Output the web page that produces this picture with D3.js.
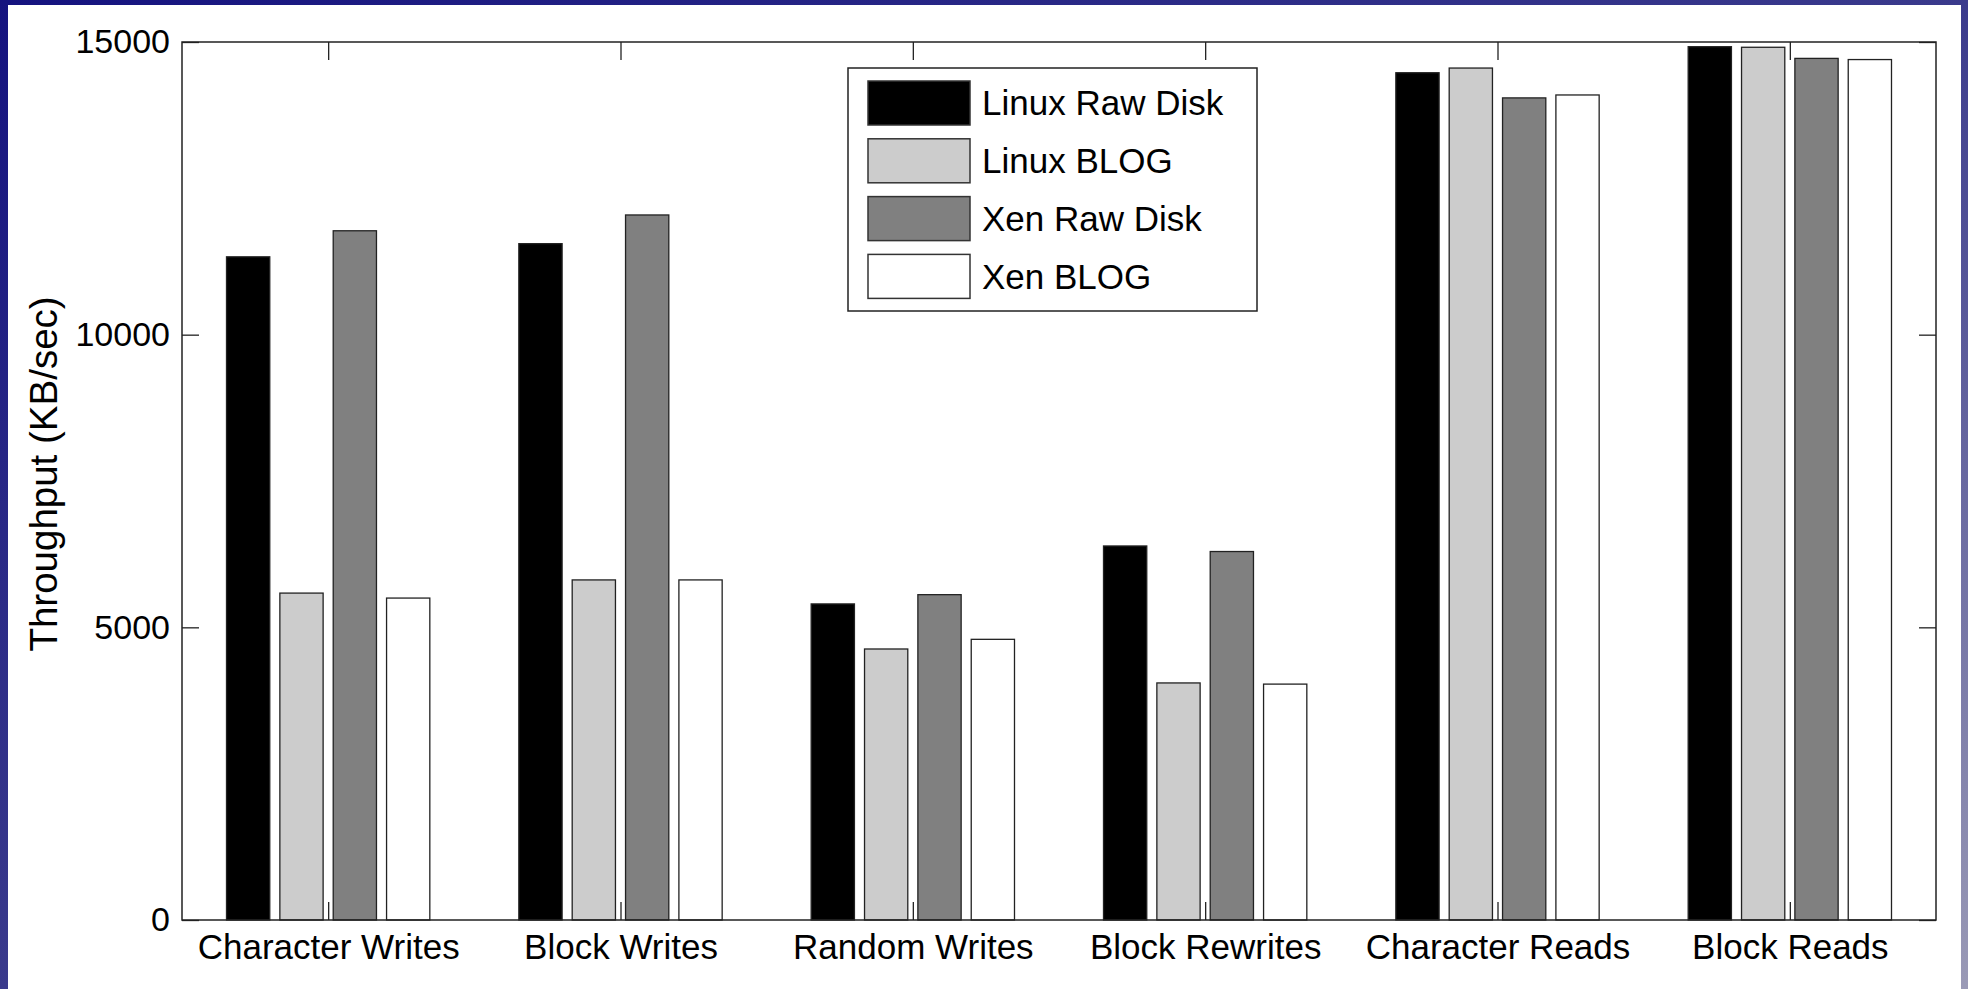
<!DOCTYPE html>
<html>
<head>
<meta charset="utf-8">
<title>Throughput</title>
<script src="https://cdn.jsdelivr.net/npm/d3@7"></script>
<style>
  html, body { margin: 0; padding: 0; overflow: hidden; }
  text { font-family: "Liberation Sans", Arial, Helvetica, sans-serif; fill: #000; }
</style>
</head>
<body>
<div id="chart"></div>
<script>
// data
var categories = ["Character Writes", "Block Writes", "Random Writes", "Block Rewrites", "Character Reads", "Block Reads"];
var seriesNames = ["Linux Raw Disk", "Linux BLOG", "Xen Raw Disk", "Xen BLOG"];
var linuxRaw  = [11330, 11555, 5400, 6390, 14475, 14920];
var linuxBlog = [5585, 5810, 4630, 4050, 14555, 14910];
var xenRaw    = [11775, 12045, 5558, 6295, 14045, 14720];
var xenBlog   = [5500, 5810, 4795, 4030, 14095, 14700];
var yTicks = [0, 5000, 10000, 15000];
var seriesColors = ["#000000", "#cccccc", "#808080", "#ffffff"];

var width = 1968, height = 989;
var plotL = 182, plotR = 1936, plotT = 42, plotB = 920;

var svg = d3.select("#chart").append("svg")
    .attr("width", width)
    .attr("height", height);

// blue slide background
var grad = svg.append("defs").append("linearGradient")
    .attr("id", "bg").attr("x1", "0").attr("y1", "0").attr("x2", "1").attr("y2", "1");
grad.append("stop").attr("offset", "0%").attr("stop-color", "#15137f");
grad.append("stop").attr("offset", "50%").attr("stop-color", "#3a3a8c");
grad.append("stop").attr("offset", "100%").attr("stop-color", "#9a9ab6");
svg.append("rect").attr("width", width).attr("height", height).attr("fill", "url(#bg)");
svg.append("rect").attr("x", 8).attr("y", 5).attr("width", 1953).attr("height", 990).attr("fill", "#fff");

var x = d3.scaleLinear().domain([0.5, 6.5]).range([plotL, plotR]);
var y = d3.scaleLinear().domain([0, 15000]).range([plotB, plotT]);

var allSeries = [linuxRaw, linuxBlog, xenRaw, xenBlog];
var step = 0.1825, barW = 0.148;

// bars
allSeries.forEach(function(vals, s) {
    svg.append("g").selectAll("rect").data(vals).enter().append("rect")
        .attr("x", function(d, i) { return x(i + 1 + (s - 1.5) * step - barW / 2); })
        .attr("width", x(barW) - x(0))
        .attr("y", function(d) { return y(d); })
        .attr("height", function(d) { return y(0) - y(d); })
        .attr("fill", seriesColors[s])
        .attr("stroke", "#222")
        .attr("stroke-width", 1.3);
});

// axes, ticks pointing inward
var xTickVals = d3.range(1, 7);
function styleAxis(g) {
    g.select(".domain").remove();
    g.selectAll(".tick line").attr("stroke", "#222").attr("stroke-width", 1.3);
}
svg.append("g").attr("transform", "translate(0," + plotB + ")")
    .call(d3.axisBottom(x).tickValues(xTickVals).tickSize(-18).tickPadding(14)
        .tickFormat(function(d) { return categories[d - 1]; }))
    .call(styleAxis)
    .selectAll("text").attr("font-size", 35).attr("dy", "0.71em");
svg.append("g").attr("transform", "translate(0," + plotT + ")")
    .call(d3.axisTop(x).tickValues(xTickVals).tickSize(-18).tickFormat(""))
    .call(styleAxis);
svg.append("g").attr("transform", "translate(" + plotL + ",0)")
    .call(d3.axisLeft(y).tickValues(yTicks).tickSize(-17).tickPadding(12).tickFormat(d3.format("d")))
    .call(styleAxis)
    .selectAll("text").attr("font-size", 34);
svg.append("g").attr("transform", "translate(" + plotR + ",0)")
    .call(d3.axisRight(y).tickValues(yTicks).tickSize(-17).tickFormat(""))
    .call(styleAxis);

// box
svg.append("rect").attr("x", plotL).attr("y", plotT)
    .attr("width", plotR - plotL).attr("height", plotB - plotT)
    .attr("fill", "none").attr("stroke", "#222").attr("stroke-width", 1.5);

// y title
svg.append("text")
    .attr("transform", "translate(57,474) rotate(-90)")
    .attr("text-anchor", "middle")
    .attr("font-size", 38.5)
    .text("Throughput (KB/sec)");

// legend
var lg = svg.append("g");
lg.append("rect").attr("x", 848).attr("y", 68).attr("width", 409).attr("height", 243)
    .attr("fill", "#fff").attr("stroke", "#222").attr("stroke-width", 1.5);
seriesNames.forEach(function(name, s) {
    var ry = 81 + s * 57.8;
    lg.append("rect").attr("x", 868).attr("y", ry).attr("width", 102).attr("height", 44)
        .attr("fill", seriesColors[s]).attr("stroke", "#333").attr("stroke-width", 1.5);
    lg.append("text").attr("x", 982).attr("y", ry + 22).attr("dy", "0.35em")
        .attr("font-size", 35).text(name);
});
</script>
</body>
</html>
